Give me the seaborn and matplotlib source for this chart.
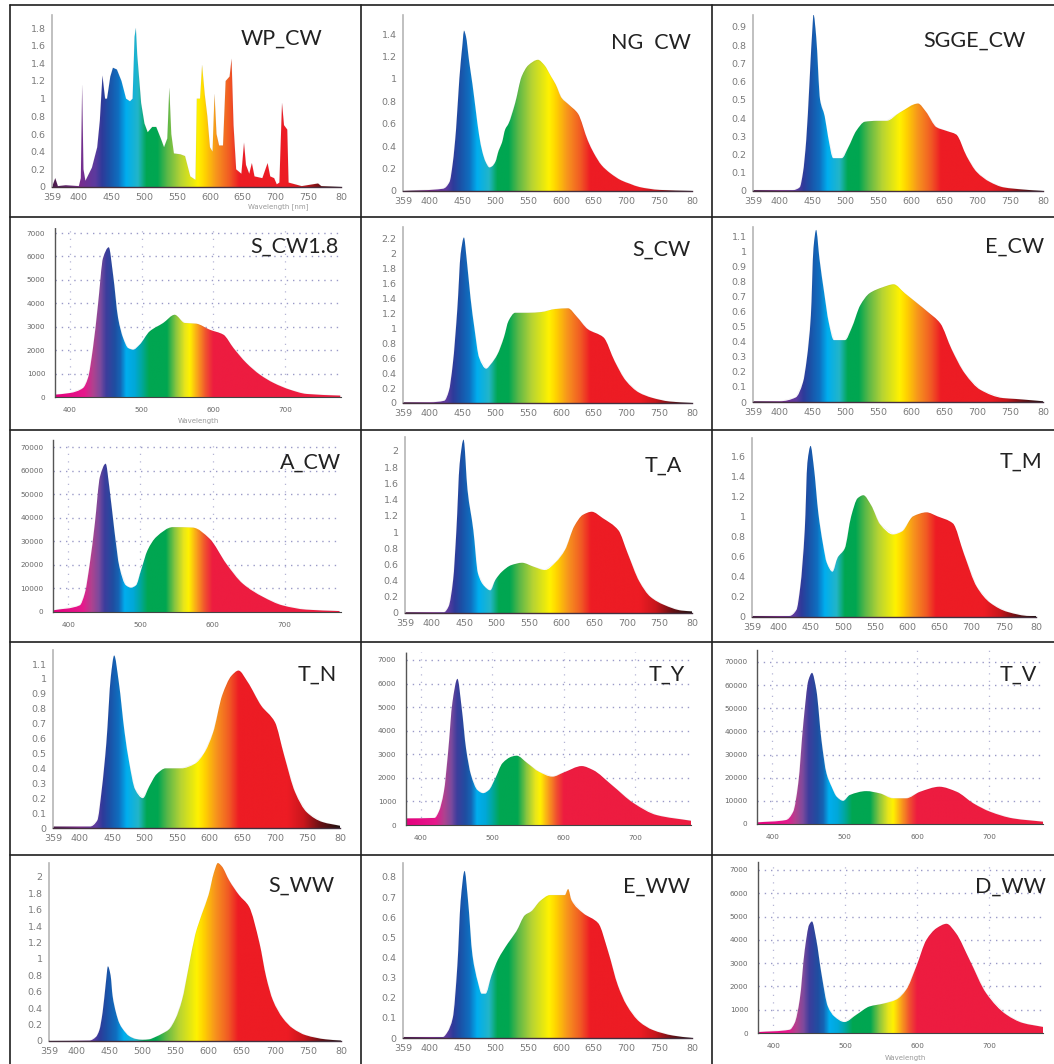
import numpy as np
import pandas as pd
import seaborn as sns
import matplotlib
matplotlib.use("Agg")
import matplotlib.pyplot as plt
from matplotlib.lines import Line2D
from matplotlib.path import Path
from matplotlib.colors import LinearSegmentedColormap
from matplotlib.ticker import AutoMinorLocator

# ---------- data ----------
wl_wp = [359,364,368,380,400,403,405,407,410,420,428,432,436,440,443,448,452,458,465,472,478,482,485,487,489,495,500,505,512,518,525,530,535,538,541,545,555,562,570,578,580,585,588,592,596,600,604,607,610,614,620,624,630,633,636,640,648,652,655,660,664,668,680,688,692,698,702,706,710,713,718,720,740,765,770,800]
val_wp = [0,.1,.01,.02,.01,.1,1.15,.2,.07,.22,.45,.75,1.26,1.0,1.0,1.25,1.35,1.33,1.2,1.0,.97,1.0,1.7,1.8,1.5,.95,.72,.62,.68,.68,.55,.45,.55,1.12,.6,.38,.37,.35,.12,.08,1.0,1.0,1.38,1.05,.8,.45,.4,1.05,.6,.47,.47,1.2,1.25,1.45,.7,.2,.15,.5,.25,.15,.27,.12,.1,.27,.12,.1,.03,.05,.95,.7,.65,.05,.01,.04,.01,0]

wl_ng = [359,420,430,435,440,445,450,452,455,460,465,470,475,480,485,491,495,500,505,510,515,520,530,540,550,565,575,585,592,601,612,626,641,650,662,675,692,705,720,750,800]
val_ng = [0,.02,.08,.25,.55,1.0,1.32,1.43,1.38,1.15,.95,.72,.5,.35,.26,.21,.22,.26,.36,.43,.55,.6,.78,1.02,1.12,1.17,1.12,1.02,.95,.83,.77,.69,.45,.34,.23,.16,.095,.065,.035,.01,0]

wl_sgge = [359,420,430,435,440,445,450,451,455,461,468,473,481,494,504,516,529,547,562,582,610,622,638,653,668,684,699,719,740,770,800]
val_sgge = [.005,.005,.02,.1,.28,.6,.93,.97,.85,.5,.41,.3,.18,.18,.24,.33,.38,.385,.385,.43,.48,.435,.35,.33,.31,.19,.105,.05,.02,.008,0]

wl_scw18 = [379,400,418,425,432,439,446,454,460,467,474,481,488,497,511,530,546,560,576,595,614,628,646,665,684,707,730,777]
val_scw18 = [100,170,380,810,2090,3940,5930,6390,5220,3370,2520,2090,2020,2230,2800,3160,3510,3160,3130,2870,2660,2090,1450,950,600,310,130,60]

wl_scw = [359,400,422,429,435,442,447,452,456,462,468,475,486,493,503,513,520,530,550,570,591,611,624,641,665,682,699,719,739,766,800]
val_scw = [.01,.01,.03,.16,.52,1.27,2.0,2.22,1.94,1.41,1.0,.61,.46,.52,.65,.88,1.1,1.21,1.21,1.22,1.26,1.27,1.16,.99,.88,.56,.3,.14,.07,.02,0]

wl_ecw = [359,400,424,435,441,447,451,455,460,467,474,482,499,509,522,536,556,573,590,610,624,644,661,681,705,739,759,800]
val_ecw = [.005,.005,.03,.13,.29,.57,1.02,1.14,.95,.73,.53,.41,.41,.49,.64,.72,.76,.78,.72,.65,.6,.52,.35,.19,.08,.026,.02,.005]

wl_acw = [379,416,423,430,437,444,452,457,464,471,480,487,494,501,510,522,545,573,596,619,642,670,697,730,776]
val_acw = [700,2800,7800,20500,37500,57300,62900,53000,34600,19100,11300,10300,11300,17700,26200,31800,36000,35800,31100,20500,12000,6400,2800,1000,400]

wl_ta = [359,400,419,426,433,438,443,449,455,464,471,481,490,498,508,522,539,557,574,591,605,619,632,646,663,687,701,719,736,757,784,800]
val_ta = [.01,.01,.01,.08,.41,1.02,1.84,2.14,1.52,1.02,.49,.33,.28,.41,.51,.59,.62,.57,.53,.63,.78,1.07,1.21,1.25,1.17,1.02,.74,.39,.2,.1,.03,.02]

wl_tm = [359,417,428,434,441,445,450,455,462,469,475,484,492,503,513,523,532,544,558,578,592,609,630,647,671,688,708,729,756,790,800]
val_tm = [.01,.01,.07,.3,.87,1.53,1.7,1.49,1.03,.73,.54,.45,.59,.68,1.0,1.18,1.21,1.11,.92,.82,.85,1.0,1.04,1.0,.93,.63,.3,.14,.05,.01,.01]

wl_tn = [359,416,427,434,441,448,453,460,469,476,485,497,507,518,532,556,577,591,605,619,633,644,658,679,700,714,731,749,773,800]
val_tn = [.01,.01,.05,.26,.57,1.02,1.157,.98,.64,.44,.26,.2,.28,.36,.4,.4,.43,.5,.64,.89,1.02,1.056,.98,.82,.71,.49,.24,.105,.04,.015]

wl_ty = [379,419,425,432,438,444,451,457,463,470,479,487,495,504,514,527,534,549,565,584,600,625,641,667,698,730,778]
val_ty = [280,300,570,1400,3100,5200,6200,4950,3250,2120,1480,1350,1480,1980,2620,2900,2940,2620,2260,2050,2230,2500,2330,1700,920,420,180]

wl_tv = [379,419,429,436,443,450,455,461,468,475,482,489,498,507,530,549,567,585,604,631,655,678,701,733,774]
val_tv = [700,1700,5300,17500,43400,62100,65300,57800,36200,21800,16100,11800,10000,12500,14200,13200,11100,11100,13900,16100,13900,8900,5300,2400,1000]

wl_sww = [359,420,430,435,440,445,448,452,455,460,465,470,480,490,500,510,520,530,540,550,560,570,580,590,600,608,614,620,631,646,661,677,687,697,712,727,747,777,800]
val_sww = [0,.005,.05,.13,.35,.72,.91,.8,.55,.35,.22,.15,.06,.025,.015,.02,.05,.09,.14,.27,.5,.9,1.3,1.55,1.78,2.05,2.17,2.13,1.96,1.78,1.64,1.19,.78,.5,.28,.155,.07,.02,.005]

wl_eww = [359,420,427,435,442,447,453,458,465,473,479,485,494,504,519,532,545,555,568,583,606,611,616,634,657,672,687,700,720,740,771,800]
val_eww = [.005,.005,.03,.1,.36,.68,.83,.69,.41,.28,.22,.22,.31,.39,.47,.53,.61,.63,.68,.71,.71,.74,.685,.62,.57,.43,.26,.165,.08,.04,.012,0]

wl_dww = [379,423,430,437,444,450,454,460,467,476,485,499,516,534,553,571,585,599,613,627,641,654,673,696,724,747,775]
val_dww = [40,140,430,1430,3570,4640,4790,4000,2570,1140,710,470,790,1140,1260,1430,1860,2860,4000,4500,4690,4290,3140,1710,790,430,260]

names = ["WP_CW","NG  CW","SGGE_CW","S_CW1.8","S_CW","E_CW","A_CW","T_A","T_M","T_N","T_Y","T_V","S_WW","E_WW","D_WW"]
wls = [wl_wp,wl_ng,wl_sgge,wl_scw18,wl_scw,wl_ecw,wl_acw,wl_ta,wl_tm,wl_tn,wl_ty,wl_tv,wl_sww,wl_eww,wl_dww]
vals = [val_wp,val_ng,val_sgge,val_scw18,val_scw,val_ecw,val_acw,val_ta,val_tm,val_tn,val_ty,val_tv,val_sww,val_eww,val_dww]

ticks_wide = [359,400,450,500,550,600,650,700,750,800]
ticklabels_wide = ["359","400","450","500","550","600","650","700","750","80"]
ticks_grid = [400,500,600,700]

# ---------- layout and style ----------
W, H = 1054, 1064
# left, right, baseline, top, px height of reference value, reference value, y step
geom = {
 "WP_CW":(52,341,187,15,28,1.8,.2), "NG  CW":(403,692,191,15,34,1.4,.2), "SGGE_CW":(753,1043,191,15,27,.9,.1),
 "S_CW1.8":(55,341,397,228,233,7000,1000), "S_CW":(403,692,403,227,239,2.2,.2), "E_CW":(753,1043,402,227,236,1.1,.1),
 "A_CW":(53,341,612,440,447,70000,10000), "T_A":(405,692,613,437,451,2.0,.2), "T_M":(752,1036,617,438,456,1.6,.2),
 "T_N":(53,340,828,650,664,1.1,.1), "T_Y":(406,691,825,652,660,7000,1000), "T_V":(757,1043,824,650,662,70000,10000),
 "S_WW":(49,341,1041,863,877,2.0,.2), "E_WW":(403,692,1038,863,877,.8,.1), "D_WW":(758,1043,1033,862,870,7000,1000),
}
xlims_grid = {"S_CW1.8":(379,778),"A_CW":(379,778),"T_Y":(379,778),"T_V":(379,774),"D_WW":(379,775)}
label_pos = {"WP_CW":(241,39),"NG  CW":(611,43),"SGGE_CW":(923,41),"S_CW1.8":(250,247),"S_CW":(632,250),"E_CW":(985,247),
             "A_CW":(280,463),"T_A":(645,466),"T_M":(1000,462),"T_N":(298,675),"T_Y":(649,675),"T_V":(1000,675),
             "S_WW":(268,886),"E_WW":(623,887),"D_WW":(975,887)}
xlabel_pos = {"WP_CW":(278,207,"Wavelength [nm]"),"S_CW1.8":(198,421,"Wavelength"),"D_WW":(905,1058,"Wavelength")}

stops_wide = [(359,'#4a1a4a'),(400,'#7b2d8e'),(425,'#5b3a9e'),(435,'#2f3a9a'),(445,'#1c4fa5'),(460,'#0f6fc0'),(472,'#00aeef'),
              (490,'#22b5c8'),(503,'#00a651'),(520,'#00a651'),(535,'#5cb848'),(555,'#b5d334'),(582,'#fff200'),(592,'#ffd400'),
              (610,'#f7941d'),(630,'#f15a24'),(645,'#ed1c24'),(720,'#ed1c24'),(745,'#c8161c'),(770,'#6a1015'),(800,'#201010')]
stops_grid = [(379,'#e5007e'),(420,'#e6198c'),(432,'#b0428f'),(442,'#7c4a9d'),(450,'#3d3d9c'),(462,'#1f4ea1'),(470,'#1565b5'),
              (478,'#00aeef'),(490,'#00a8d8'),(500,'#00a79d'),(510,'#00a651'),(535,'#00a651'),(548,'#8dc63f'),(560,'#e8e51c'),
              (567,'#fff200'),(578,'#f9a11b'),(590,'#f04e30'),(600,'#ed1c40'),(800,'#ed1c40')]

def make_cmap(stops):
    lo, hi = stops[0][0], stops[-1][0]
    return LinearSegmentedColormap.from_list("spec", [((w-lo)/(hi-lo), c) for w, c in stops], N=512), lo, hi

def smooth_outline(x, y):
    """Closed outline through the read points, drawn with monotone Bezier segments."""
    x = np.asarray(x, float); y = np.asarray(y, float)
    h = np.diff(x); d = np.diff(y)/h
    m = np.zeros_like(x)
    m[0], m[-1] = d[0], d[-1]
    for i in range(1, len(x)-1):
        if d[i-1]*d[i] > 0:
            w1, w2 = 2*h[i]+h[i-1], h[i]+2*h[i-1]
            m[i] = (w1+w2)/(w1/d[i-1]+w2/d[i])
    verts = [(x[0], 0), (x[0], y[0])]
    codes = [Path.MOVETO, Path.LINETO]
    for i in range(len(h)):
        verts += [(x[i]+h[i]/3, y[i]+m[i]*h[i]/3), (x[i+1]-h[i]/3, y[i+1]-m[i+1]*h[i]/3), (x[i+1], y[i+1])]
        codes += [Path.CURVE4]*3
    verts += [(x[-1], 0), (x[0], 0)]
    codes += [Path.LINETO, Path.CLOSEPOLY]
    return Path(verts, codes)

cm_wide = make_cmap(stops_wide)
cm_grid = make_cmap(stops_grid)

sns.set_theme(style="white")
plt.rcParams['font.family'] = ['DejaVu Sans']
fig = plt.figure(figsize=(W/100, H/100), dpi=100, facecolor="white")

for name, wl, val in zip(names, wls, vals):
    L, R, base, top, refpx, ref, step = geom[name]
    is_grid = name in xlims_grid
    ax = fig.add_axes([L/W, 1-base/H, (R-L)/W, (base-top)/H], facecolor="none")
    ymax = ref*(base-top)/(base-refpx)
    xlim = xlims_grid.get(name, (359, 800))
    df = pd.DataFrame({"wavelength": wl, "power": val})

    cmap, lo, hi = cm_grid if is_grid else cm_wide
    poly = ax.fill_between(df["wavelength"], df["power"], 0, color="none", lw=0)
    im = ax.imshow(np.linspace(lo, hi, 800)[None, :], extent=(lo, hi, 0, ymax), aspect="auto",
                   cmap=cmap, vmin=lo, vmax=hi, zorder=2, interpolation="bilinear")
    if name == "WP_CW":
        outline = poly.get_paths()[0]      # this lamp's spikes stay sharp
    else:
        outline = smooth_outline(wl, val)
    im.set_clip_path(outline, transform=ax.transData)
    sns.lineplot(data=df, x="wavelength", y="power", ax=ax, estimator=None, sort=False,
                 color="#3a2a3a", lw=0.3, alpha=0.1, zorder=3)
    ax.set_xlim(*xlim)
    ax.set_ylim(0, ymax)
    ax.set_xlabel(""); ax.set_ylabel("")

    yt = np.arange(0, ref*1.001, step)
    ax.set_yticks(yt)
    for s in ("top", "right"):
        ax.spines[s].set_visible(False)
    if is_grid:
        ax.set_yticklabels([f"{int(round(v))}" for v in yt])
        ax.set_xticks(ticks_grid)
        ax.set_xticklabels([str(t) for t in ticks_grid])
        ax.grid(True, axis="y", color="#9a9ac8", lw=1.0, ls=(0, (1, 3.5)), zorder=1)
        ax.grid(True, axis="x", color="#b5b5d5", lw=0.9, ls=(0, (1, 5)), zorder=1)
        ax.yaxis.set_minor_locator(AutoMinorLocator(5))
        ax.tick_params(axis="y", which="minor", length=1.5, width=.5, color="#666")
        ax.tick_params(axis="both", which="major", labelsize=5.2, labelcolor="#666", length=2, width=.6, color="#666", pad=5)
        ax.spines["left"].set_color("#555"); ax.spines["left"].set_linewidth(1.0); ax.spines["left"].set_linestyle((0, (1.5, 1)))
        ax.spines["bottom"].set_color("#444"); ax.spines["bottom"].set_linewidth(.8)
    else:
        ax.set_yticklabels([f"{v:.1f}".rstrip("0").rstrip(".") if v else "0" for v in yt])
        ax.set_xticks(ticks_wide)
        ax.set_xticklabels(ticklabels_wide)
        ax.tick_params(axis="both", labelsize=6.8, labelcolor="#7a7a7a", length=2.5, width=.7, color="#aaa", pad=2)
        ax.spines["left"].set_color("#b5b5b5"); ax.spines["left"].set_linewidth(1.2)
        ax.spines["bottom"].set_color("#45303f"); ax.spines["bottom"].set_linewidth(1.0)

    x0, y0 = label_pos[name]
    fig.text(x0/W, 1-y0/H, name, fontsize=15.5, color="#222", family="Lato", ha="left", va="center")
    if name in xlabel_pos:
        xp, yp, t = xlabel_pos[name]
        fig.text(xp/W, 1-yp/H, t, fontsize=5, color="#999", ha="center", va="center")

frame_x = [9.5, 361, 712]
frame_y = [5, 217, 430, 642, 855]
for x in frame_x:
    fig.add_artist(Line2D([x/W, x/W], [1-5/H, 0], color="#1f1f1f", lw=1.2))
for y in frame_y:
    fig.add_artist(Line2D([9.5/W, 1], [1-y/H, 1-y/H], color="#1f1f1f", lw=1.2))

fig.savefig("out.png", dpi=100, facecolor="white")
